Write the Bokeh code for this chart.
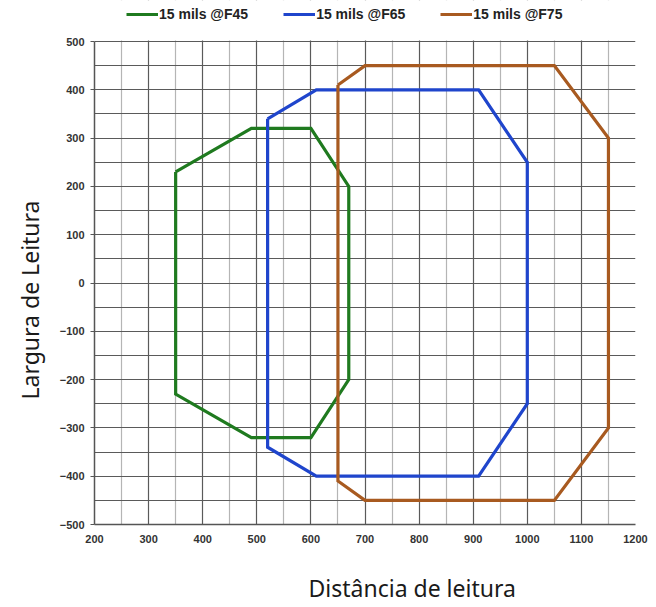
from bokeh.plotting import figure
from bokeh.models import (Legend, LegendItem, FixedTicker, Range1d, Title, BoxAnnotation)
from bokeh.embed import file_html
from bokeh.resources import INLINE

# ---- data ----
series_names = ["15 mils @F45", "15 mils @F65", "15 mils @F75"]
f45_x = [350, 490, 600, 670, 670, 600, 490, 350, 350]
f45_y = [230, 320, 320, 200, -200, -320, -320, -230, 230]
f65_x = [520, 610, 910, 1000, 1000, 910, 610, 520, 520]
f65_y = [340, 400, 400, 250, -250, -400, -400, -340, 340]
f75_x = [650, 700, 1050, 1150, 1150, 1050, 700, 650, 650]
f75_y = [410, 450, 450, 300, -300, -450, -450, -410, 410]
x_ticks = [200, 300, 400, 500, 600, 700, 800, 900, 1000, 1100, 1200]
y_ticks = [-500, -400, -300, -200, -100, 0, 100, 200, 300, 400, 500]
x_minor = [250, 350, 450, 550, 650, 750, 850, 950, 1050, 1150]
y_minor = [-450, -350, -250, -150, -50, 50, 150, 250, 350, 450]
colors = ["#1f7a1f", "#1f45cc", "#a85a20"]

# frame: plot area of 483 px for the y span, plus a 41 px strip on top for the legend
plot_px = 483
strip_px = 41
y_lo, y_hi = y_ticks[0], y_ticks[-1]
y_top = y_hi + strip_px * (y_hi - y_lo) / plot_px

p = figure(frame_width=541, frame_height=plot_px + strip_px, output_backend="svg",
           toolbar_location=None,
           x_range=Range1d(x_ticks[0], x_ticks[-1]), y_range=Range1d(y_lo, y_top),
           min_border_left=85, min_border_right=14, min_border_top=0, min_border_bottom=40)
p.background_fill_color = "white"
p.border_fill_color = "white"
p.outline_line_color = None

renderers = []
for xs, ys, c in zip([f45_x, f65_x, f75_x], [f45_y, f65_y, f75_y], colors):
    renderers.append(p.line(xs, ys, line_color=c, line_width=3.2, line_join="miter"))

p.xaxis.ticker = FixedTicker(ticks=x_ticks, minor_ticks=x_minor)
p.yaxis.ticker = FixedTicker(ticks=y_ticks, minor_ticks=y_minor)
p.yaxis.bounds = (y_lo, y_hi)

p.xgrid.grid_line_color = "#5a5a5a"
p.xgrid.grid_line_width = 1.2
p.xgrid.minor_grid_line_color = "#b5b5b5"
p.xgrid.minor_grid_line_width = 1.2
p.ygrid.grid_line_color = "#5a5a5a"
p.ygrid.grid_line_width = 1.2
p.ygrid.minor_grid_line_color = "#5a5a5a"
p.ygrid.minor_grid_line_width = 1.2

for ax in (p.xaxis[0], p.yaxis[0]):
    ax.axis_line_color = "#555555"
    ax.axis_line_width = 1.5
    ax.major_tick_line_color = "#555555"
    ax.major_tick_in = 0
    ax.major_tick_out = 4
    ax.minor_tick_line_color = None
    ax.major_label_text_font = "Liberation Sans"
    ax.major_label_text_font_style = "bold"
    ax.major_label_text_font_size = "11px"
    ax.major_label_text_color = "#333333"
p.xaxis.major_tick_line_color = None
p.xaxis.major_label_standoff = 6
p.yaxis.major_label_standoff = 6

# white strip above the grid, holding the legend
p.add_layout(BoxAnnotation(bottom=y_hi + 2, fill_color="white", fill_alpha=1.0,
                           line_color=None))

legend = Legend(items=[LegendItem(label=n, renderers=[r]) for n, r in zip(series_names, renderers)],
                orientation="horizontal", location=(32, plot_px + strip_px - 22),
                padding=0, margin=0,
                spacing=35, glyph_width=32, glyph_height=14, label_height=14, label_standoff=1,
                label_text_font="Liberation Sans", label_text_font_style="bold",
                label_text_font_size="14px", label_text_color="#222222",
                border_line_color=None, background_fill_alpha=0)
p.add_layout(legend, "center")

xt = Title(text="Distância de leitura", align="left", offset=214,
           text_font="Noto Sans", text_font_size="23px", text_font_style="normal",
           text_color="#1a1a1a", standoff=48)
p.add_layout(xt, "below")
yt = Title(text="Largura de Leitura", align="left", offset=125,
           text_font="Noto Sans", text_font_size="23px", text_font_style="normal",
           text_color="#1a1a1a", standoff=22)
p.add_layout(yt, "left")

open("out.html", "w").write(file_html(p, INLINE))
